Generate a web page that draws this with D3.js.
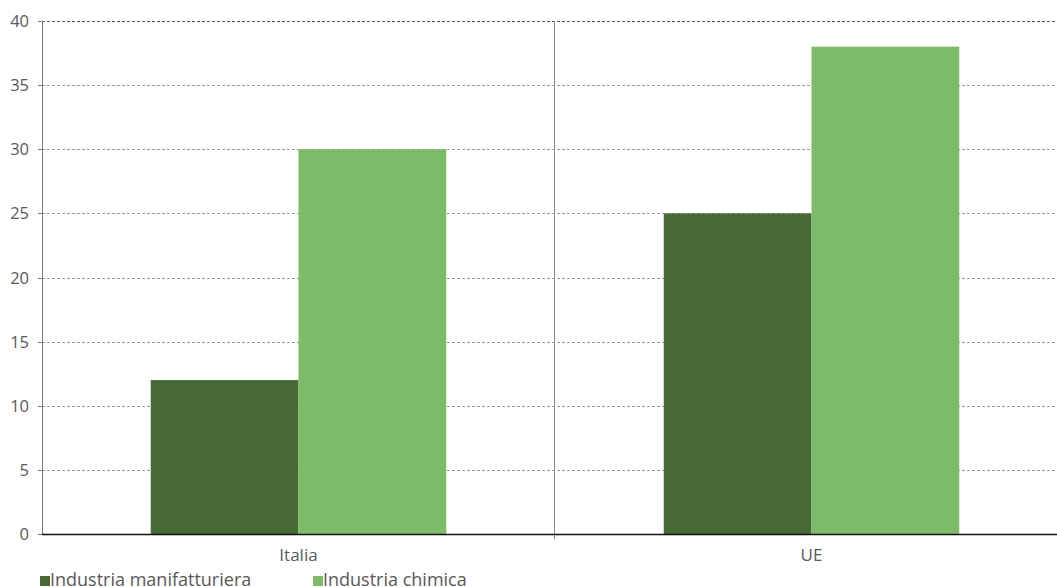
<!DOCTYPE html>
<html><head><meta charset="utf-8">
<script src="https://cdn.jsdelivr.net/npm/d3@7"></script>
<style>body{margin:0;background:#fff;overflow:hidden}svg{display:block}text{font-family:"Open Sans",sans-serif;fill:#595959}</style>
</head><body>
<svg id="c" width="1057" height="587"></svg>
<script>
const categories = ["Italia", "UE"];
const seriesNames = ["Industria manifatturiera", "Industria chimica"];
const manifatturiera = [12, 25];
const chimica = [30, 38];
const yTicks = [0, 5, 10, 15, 20, 25, 30, 35, 40];
const colors = ["#466935", "#7dbb68"];

const svg = d3.select("#c");
const mLeft = 42, mRight = 1068, mTop = 21, mBottom = 534;
const x = d3.scaleBand().domain(categories).range([mLeft, mRight]).paddingInner(0).paddingOuter(0);
const y = d3.scaleLinear().domain([0, 40]).range([mBottom, mTop]);
const xs = d3.scaleBand().domain(seriesNames).range([0, x.bandwidth()]).paddingInner(0).paddingOuter(0.736);

// grid
svg.append("g").selectAll("line").data(yTicks.filter(d => d > 0)).join("line")
  .attr("x1", mLeft).attr("x2", 1057).attr("y1", d => Math.round(y(d)) + 0.5).attr("y2", d => Math.round(y(d)) + 0.5)
  .attr("stroke", d => d === 40 ? "#555" : "#999").attr("stroke-width", 1)
  .attr("stroke-dasharray", "3,2");

// bars
const data = categories.map((c, i) => ({c, vals: [manifatturiera[i], chimica[i]]}));
const g = svg.append("g");
data.forEach(d => {
  d.vals.forEach((v, j) => {
    g.append("rect")
      .attr("x", x(d.c) + xs(seriesNames[j]))
      .attr("width", xs.bandwidth())
      .attr("y", y(v)).attr("height", y(0) - y(v))
      .attr("fill", colors[j]);
  });
});

// separators
categories.slice(1).forEach(c => {
  svg.append("line").attr("x1", Math.round(x(c)) - 0.5).attr("x2", Math.round(x(c)) - 0.5)
    .attr("y1", mTop).attr("y2", mBottom + 5).attr("stroke", "#888").attr("stroke-width", 1);
});

// y axis
svg.append("line").attr("x1", mLeft + 0.5).attr("x2", mLeft + 0.5).attr("y1", mTop).attr("y2", mBottom)
  .attr("stroke", "#777");
const ya = svg.append("g");
yTicks.forEach(t => {
  const yy = Math.round(y(t)) + 0.5;
  ya.append("line").attr("x1", mLeft - 4).attr("x2", mLeft).attr("y1", yy).attr("y2", yy).attr("stroke", "#777");
  ya.append("text").attr("x", mLeft - 13).attr("y", yy).attr("dy", "0.36em").attr("text-anchor", "end")
    .attr("font-size", 16.5).text(t);
});

// x axis
svg.append("line").attr("x1", mLeft).attr("x2", 1057).attr("y1", mBottom + 0.5).attr("y2", mBottom + 0.5)
  .attr("stroke", "#111").attr("stroke-width", 1.3);
categories.forEach(c => {
  svg.append("text").attr("x", x(c) + x.bandwidth() / 2).attr("y", 561)
    .attr("text-anchor", "middle").attr("font-size", 17).text(c);
});

// legend
const legX = [40, 313];
seriesNames.forEach((s, i) => {
  svg.append("rect").attr("x", legX[i]).attr("y", 576).attr("width", 10).attr("height", 10).attr("fill", colors[i]);
  svg.append("text").attr("x", legX[i] + 10).attr("y", 586).attr("font-size", 18).text(s);
});
</script>
</body></html>
